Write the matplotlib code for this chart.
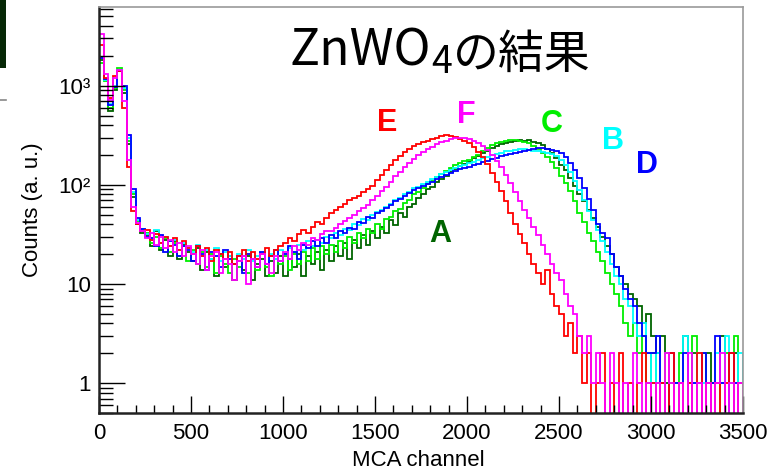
import numpy as np
import matplotlib
matplotlib.use("Agg")
import matplotlib.pyplot as plt
from matplotlib.patches import Rectangle
from matplotlib.lines import Line2D
from matplotlib.ticker import MultipleLocator, FixedLocator, FixedFormatter, LogLocator, NullFormatter

# MCA spectra, 25-channel bins from 0 to 3500
bin_width = 25
edges = np.arange(141) * bin_width

spec_a = [1800, 1150, 560, 900, 1450, 850, 260, 75, 40, 33,
          31, 24, 34, 22, 28, 19, 27, 18, 25, 21,
          17, 23, 14, 21, 18, 12, 20, 15, 19, 11,
          17, 14, 19, 11, 16, 18, 12, 17, 13, 19,
          12, 18, 15, 20, 12, 19, 16, 21, 14, 22,
          17, 24, 19, 26, 18, 28, 23, 31, 25, 34,
          29, 38, 33, 44, 39, 52, 47, 60, 64, 74,
          80, 90, 96, 108, 116, 124, 134, 146, 154, 164,
          172, 186, 196, 210, 222, 236, 246, 258, 266, 272,
          280, 286, 278, 282, 270, 262, 250, 232, 210, 188,
          160, 140, 118, 98, 80, 68, 56, 46, 38, 30,
          24, 20, 15, 12, 10, 8, 7, 6, 4, 5,
          3, 2, 3, 1, 2, 1, 0, 3, 1, 2,
          1, 0, 2, 1, 1, 3, 0, 1, 2, 1]

spec_b = [1900, 1150, 650, 1000, 1450, 950, 300, 85, 44, 36,
          32, 28, 35, 26, 30, 24, 28, 22, 26, 23,
          21, 25, 19, 22, 18, 23, 17, 21, 19, 16,
          20, 18, 22, 17, 19, 21, 16, 20, 18, 22,
          20, 23, 21, 25, 22, 27, 24, 28, 26, 30,
          29, 33, 31, 36, 35, 40, 39, 45, 44, 50,
          53, 56, 60, 64, 70, 74, 80, 85, 92, 96,
          102, 108, 114, 120, 128, 134, 140, 148, 154, 160,
          166, 172, 178, 186, 192, 198, 206, 212, 218, 222,
          226, 230, 228, 224, 222, 218, 214, 210, 204, 194,
          180, 160, 134, 110, 88, 70, 55, 44, 35, 27,
          21, 16, 12, 10, 7, 6, 4, 3, 4, 2,
          1, 2, 1, 0, 2, 1, 1, 3, 0, 1,
          2, 1, 1, 0, 2, 1, 3, 1, 0, 2]

spec_c = [1700, 1120, 600, 950, 1500, 900, 280, 80, 43, 35,
          33, 26, 30, 23, 29, 21, 26, 19, 24, 17,
          22, 16, 21, 15, 20, 13, 19, 16, 13, 18,
          15, 19, 13, 18, 14, 20, 15, 12, 18, 16,
          19, 14, 20, 16, 21, 17, 23, 18, 24, 20,
          25, 21, 27, 23, 30, 26, 33, 29, 36, 33,
          40, 36, 45, 47, 55, 57, 66, 71, 80, 85,
          94, 102, 110, 120, 128, 138, 148, 158, 168, 174,
          180, 190, 200, 218, 236, 250, 262, 272, 280, 285,
          282, 276, 272, 262, 246, 228, 210, 192, 172, 148,
          124, 104, 86, 68, 52, 42, 33, 27, 21, 17,
          13, 10, 8, 6, 4, 3, 4, 2, 3, 1,
          2, 1, 0, 2, 1, 1, 2, 0, 1, 3,
          1, 2, 0, 1, 1, 0, 2, 1, 3, 1]

spec_d = [1900, 1180, 640, 980, 1420, 1000, 320, 90, 46, 36,
          30, 29, 24, 31, 21, 27, 25, 19, 24, 22,
          17, 24, 20, 14, 21, 19, 15, 22, 18, 16,
          19, 13, 20, 18, 15, 21, 16, 19, 22, 17,
          20, 24, 21, 18, 25, 23, 27, 24, 29, 26,
          31, 29, 34, 33, 37, 36, 42, 41, 47, 46,
          52, 55, 58, 63, 68, 72, 78, 82, 88, 93,
          98, 103, 108, 114, 120, 126, 132, 138, 144, 148,
          152, 158, 164, 170, 176, 182, 188, 194, 200, 204,
          210, 214, 220, 226, 232, 236, 234, 230, 226, 220,
          210, 192, 166, 140, 118, 94, 72, 56, 40, 33,
          29, 20, 15, 12, 9, 7, 6, 4, 3, 2,
          2, 3, 1, 0, 2, 1, 1, 2, 0, 1,
          1, 2, 0, 1, 3, 1, 0, 2, 1, 1]

spec_e = [2600, 1200, 760, 1250, 1400, 600, 150, 55, 40, 34,
          35, 28, 32, 26, 30, 24, 29, 22, 27, 23,
          20, 24, 19, 23, 17, 22, 20, 18, 21, 16,
          19, 22, 17, 21, 18, 20, 23, 19, 22, 24,
          26, 29, 27, 32, 35, 33, 38, 42, 40, 46,
          52, 56, 60, 64, 70, 74, 78, 84, 90, 98,
          112, 126, 142, 160, 180, 196, 214, 232, 246, 258,
          268, 280, 290, 300, 312, 318, 310, 302, 290, 278,
          262, 240, 216, 190, 162, 132, 106, 86, 68, 52,
          40, 32, 26, 20, 16, 13, 10, 14, 8, 6,
          5, 3, 4, 2, 3, 1, 2, 0, 1, 2,
          0, 1, 0, 2, 0, 1, 0, 1, 2, 0,
          1, 0, 1, 0, 2, 0, 1, 0, 1, 0,
          2, 0, 1, 0, 1, 0, 1, 2, 0, 1]

spec_f = [3300, 1300, 720, 1200, 1450, 700, 180, 60, 41, 34,
          29, 33, 25, 30, 23, 28, 21, 26, 19, 24,
          20, 16, 22, 14, 19, 21, 13, 18, 16, 11,
          17, 19, 10, 18, 15, 20, 16, 13, 19, 17,
          21, 18, 24, 22, 26, 25, 29, 28, 32, 34,
          34, 37, 40, 43, 46, 50, 54, 58, 63, 70,
          78, 86, 96, 108, 122, 136, 150, 166, 182, 198,
          214, 228, 242, 256, 268, 280, 290, 296, 298, 294,
          288, 278, 262, 244, 224, 200, 176, 150, 126, 104,
          84, 68, 56, 46, 38, 31, 25, 20, 16, 13,
          11, 8, 6, 5, 3, 2, 3, 1, 2, 1,
          0, 2, 1, 0, 1, 0, 2, 1, 0, 1,
          0, 1, 0, 2, 1, 0, 1, 0, 2, 0,
          1, 0, 1, 0, 1, 2, 0, 1, 0, 1]

names = ["A", "C", "B", "D", "E", "F"]
spectra = [spec_a, spec_c, spec_b, spec_d, spec_e, spec_f]
colors = ["#006400", "#00ee00", "#00ffff", "#0000ff", "#ff0000", "#ff00ff"]

plt.rcParams['font.family'] = ['Liberation Sans', 'DejaVu Sans']
jp = ['Noto Sans CJK JP', 'DejaVu Sans']

W, H = 776, 471
fig = plt.figure(figsize=(W / 100, H / 100), dpi=100)
ax = fig.add_axes([99 / W, 58 / H, 644 / W, 406 / H])

for vals, col in zip(spectra, colors):
    v = np.array(vals, dtype=float)
    v[v <= 0] = 0.1   # empty bins drop below the axis
    ax.stairs(v, edges, baseline=0.1, color=col, lw=1.3)

ax.set_yscale('log')
ax.set_xlim(0, 3500)
ax.set_ylim(0.5, 6230)

ax.xaxis.set_major_locator(MultipleLocator(500))
ax.xaxis.set_minor_locator(MultipleLocator(100))
ax.yaxis.set_major_locator(FixedLocator([1, 10, 100, 1000]))
ax.yaxis.set_major_formatter(FixedFormatter(['1', '10', '10²', '10³']))
ax.yaxis.set_minor_locator(LogLocator(base=10, subs=np.arange(2, 10)))
ax.yaxis.set_minor_formatter(NullFormatter())

ax.tick_params(axis='x', which='major', direction='in', length=12, width=1, labelsize=16, pad=7)
ax.tick_params(axis='x', which='minor', direction='in', length=6, width=1)
ax.tick_params(axis='y', which='major', direction='in', length=19, width=1, labelsize=16, pad=6)
ax.tick_params(axis='y', which='minor', direction='in', length=10, width=1)

for side in ['left', 'bottom']:
    ax.spines[side].set_linewidth(1.8)
    ax.spines[side].set_color('#222222')
for side in ['top', 'right']:
    ax.spines[side].set_linewidth(1.2)
    ax.spines[side].set_color('#9a9a9a')

ax.set_xlabel('MCA channel', fontsize=16, va='center')
ax.xaxis.set_label_coords(0.496, -0.118)
ax.set_ylabel('Counts (a. u.)', fontsize=16, va='center')
ax.yaxis.set_label_coords(-0.104, 0.5)

# series letters
label_pos = {"E": (1568, 418), "F": (1998, 509), "C": (2461, 413),
             "B": (2792, 278), "D": (2978, 159), "A": (1857, 31.6)}
for name, col in zip(names, colors):
    x, y = label_pos[name]
    ax.text(x, y, name, color=col, fontsize=22, fontweight='bold',
            ha='center', va='center')

# slide title, pieces chained left to right
renderer = fig.canvas.get_renderer()
t1 = fig.text(289 / W, 1 - 65 / H, 'ZnWO', fontsize=36, family=jp, ha='left', va='baseline')
x1 = t1.get_window_extent(renderer).x1
t2 = fig.text((x1 + 1) / W, 1 - 73 / H, '4', fontsize=27, family=jp, ha='left', va='baseline')
x2 = t2.get_window_extent(renderer).x1
fig.text((x2 + 1) / W, 1 - 68 / H, 'の結果', fontsize=33, family=jp, ha='left', va='baseline')

# slide decoration at the top-left corner
fig.patches.append(Rectangle((0, 1 - 68 / H), 6 / W, 68 / H, transform=fig.transFigure,
                             facecolor='#062806', edgecolor='none'))
fig.lines.append(Line2D([0, 6 / W], [1 - 100 / H, 1 - 100 / H], transform=fig.transFigure,
                        color='#888888', lw=1.2))

fig.savefig('out.png', dpi=100)
